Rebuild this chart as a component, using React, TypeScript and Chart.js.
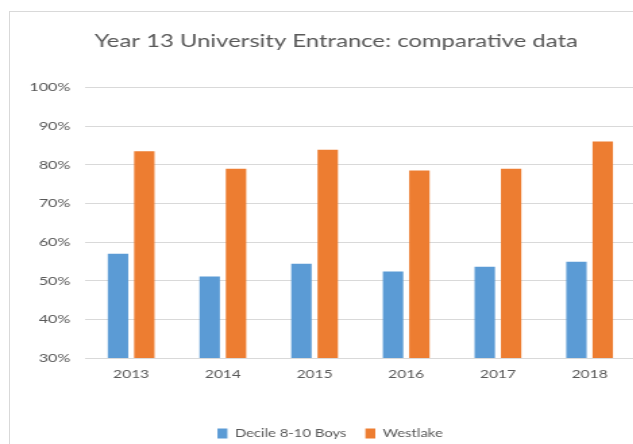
import { useEffect, useRef } from 'react';
import { Chart, registerables } from 'chart.js';

Chart.register(...registerables);

const categories = ['2013', '2014', '2015', '2016', '2017', '2018'];
const decileBoys = [57, 51.1, 54.4, 52.4, 53.6, 54.9];
const westlake = [83.5, 79, 83.9, 78.5, 79, 86];
const seriesNames = ['Decile 8-10 Boys', 'Westlake'];
const titleText = 'Year 13 University Entrance: comparative data';
const yMin = 30;
const yMax = 100;
const yStep = 10;

const SX = 1.35; // horizontal stretch of the reference picture
const W = 489;
const H = 450;
const TEXT = '#595959';
const GRID = '#D9D9D9';
const FONT = 'Lato';

export default function App() {
  const ref = useRef<HTMLCanvasElement>(null);

  useEffect(() => {
    const titlePlugin = {
      id: 'customTitle',
      afterDraw(chart: any) {
        const ctx = chart.ctx;
        ctx.save();
        ctx.font = `17.7px ${FONT}`;
        ctx.fillStyle = TEXT;
        ctx.textAlign = 'center';
        ctx.textBaseline = 'alphabetic';
        ctx.fillText(titleText, 249, 47.3);
        ctx.restore();
      },
    };

    const chart = new Chart(ref.current!, {
      type: 'bar',
      data: {
        labels: categories,
        datasets: [
          {
            label: seriesNames[0],
            data: decileBoys,
            backgroundColor: '#5B9BD5',
            borderWidth: 0,
            categoryPercentage: 0.574,
            barPercentage: 0.776,
          },
          {
            label: seriesNames[1],
            data: westlake,
            backgroundColor: '#ED7D31',
            borderWidth: 0,
            categoryPercentage: 0.574,
            barPercentage: 0.776,
          },
        ],
      },
      options: {
        responsive: false,
        animation: false,
        devicePixelRatio: 1,
        layout: { padding: { top: 87.5, bottom: 1, left: 0, right: 0 } },
        plugins: {
          title: { display: false },
          tooltip: { enabled: false },
          legend: {
            position: 'bottom',
            labels: {
              boxWidth: 7.4,
              boxHeight: 10,
              padding: 14,
              color: TEXT,
              font: { size: 11, family: FONT },
            },
          },
        },
        scales: {
          x: {
            grid: { display: false },
            border: { display: false },
            ticks: { color: TEXT, font: { size: 11.5, family: FONT }, padding: 1.5 },
            afterFit(s: any) {
              s.height = 56;
            },
          },
          y: {
            min: yMin,
            max: yMax,
            ticks: {
              stepSize: yStep,
              callback: (v: any) => `${v}%`,
              padding: 11,
              color: TEXT,
              font: { size: 12, family: FONT },
            },
            grid: { color: GRID, drawTicks: false, lineWidth: 1 },
            border: { display: false },
            afterFit(s: any) {
              s.width = 63.2;
            },
          },
          yR: {
            type: 'linear',
            position: 'right',
            display: true,
            grid: { display: false },
            ticks: { display: false },
            border: { display: false },
            afterFit(s: any) {
              s.width = W - 470.7;
            },
          },
        },
      } as any,
      plugins: [titlePlugin],
    });
    return () => chart.destroy();
  }, []);

  return (
    <div
      style={{
        position: 'fixed',
        left: 0,
        top: 0,
        width: 633,
        height: 444,
        overflow: 'hidden',
        background: '#fff',
      }}
    >
      <div
        style={{
          position: 'absolute',
          left: 9,
          top: 11,
          width: 800,
          height: 600,
          border: `1px solid ${GRID}`,
        }}
      />
      <div
        style={{
          position: 'absolute',
          left: 0,
          top: 0,
          width: W,
          height: H,
          transform: `scaleX(${SX})`,
          transformOrigin: '0 0',
        }}
      >
        <canvas ref={ref} width={W} height={H} style={{ width: W, height: H, display: 'block' }} />
      </div>
    </div>
  );
}
